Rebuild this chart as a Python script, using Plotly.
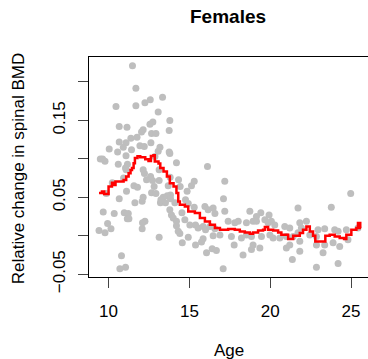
import plotly.graph_objects as go

# Scatter data: age vs relative change in spinal BMD (females)
age = [11.48, 11.69, 10.46, 11.69, 12.25, 12.58, 13.34, 13.07, 13.79, 12.74,
       12.56, 10.66, 11.14, 12.14, 12.04, 13.75, 12.66, 12.93, 11.38, 11.76,
       10.66, 11.08, 12.62, 11.94, 12.21, 10.91, 10.04, 13.18, 13.07, 13.75,
       13.79, 11.42, 10.56, 11.08, 12.87, 9.63, 9.78, 10.60, 11.17, 14.20,
       16.12, 11.05, 12.14, 13.13, 17.19, 10.23, 12.60, 12.72, 12.35, 13.13,
       13.69, 11.57, 11.79, 12.66, 11.11, 9.86, 15.30, 15.13, 14.86, 13.83,
       13.63, 13.38, 13.21, 13.52, 13.83, 14.10, 12.14, 12.08, 11.63, 10.66,
       14.76, 14.93, 15.96, 16.16, 16.47, 16.58, 15.30, 17.19, 13.79, 13.89,
       14.00, 9.67, 10.35, 10.97, 11.22, 11.16, 11.26, 12.25, 12.10, 12.08,
       9.94, 10.15, 9.41, 9.78, 14.20, 14.20, 14.31, 14.41, 14.72, 15.03,
       15.38, 15.54, 15.85, 16.00, 16.27, 16.58, 16.89, 16.47, 14.93, 13.13,
       15.85, 15.75, 14.56, 15.38, 16.41, 16.67, 16.06, 10.80, 10.70, 11.05,
       17.09, 17.11, 24.98, 21.72, 23.78, 18.74, 19.42, 19.15, 19.93, 17.40,
       17.81, 18.02, 18.53, 18.94, 19.15, 19.67, 19.87, 20.07, 20.28, 22.24,
       21.83, 21.93, 20.90, 21.21, 22.96, 23.37, 23.99, 24.20, 24.71, 25.43,
       17.60, 18.22, 18.53, 18.84, 19.46, 19.98, 20.18, 20.59, 21.00, 21.42,
       21.72, 22.45, 22.86, 17.77, 18.94, 19.36, 18.84, 21.00, 21.21, 21.83,
       22.86, 23.37, 23.89, 24.30, 24.81, 18.32, 21.83, 23.27, 21.37, 24.20,
       22.86, 11.09, 10.93, 12.22, 12.82, 12.93, 13.24, 14.54, 13.81, 14.33,
       14.43, 9.49]
bmd = [0.221, 0.192, 0.168, 0.169, 0.173, 0.177, 0.180, 0.161, 0.150, 0.148,
       0.145, 0.142, 0.141, 0.138, 0.135, 0.137, 0.133, 0.133, 0.127, 0.128,
       0.122, 0.121, 0.121, 0.117, 0.116, 0.115, 0.113, 0.115, 0.110, 0.109,
       0.107, 0.112, 0.109, 0.104, 0.103, 0.100, 0.097, 0.093, 0.093, 0.095,
       0.090, 0.088, 0.086, 0.086, 0.071, 0.069, 0.077, 0.072, 0.073, 0.072,
       0.065, 0.065, 0.063, 0.056, 0.058, 0.055, 0.071, 0.065, 0.058, 0.053,
       0.052, 0.050, 0.043, 0.043, 0.048, 0.043, 0.050, 0.045, 0.043, 0.048,
       0.047, 0.042, 0.038, 0.034, 0.036, 0.029, 0.037, 0.032, 0.034, 0.027,
       0.023, 0.031, 0.029, 0.030, 0.029, 0.022, 0.022, 0.019, 0.017, 0.009,
       0.016, 0.009, 0.007, 0.004, 0.019, 0.013, 0.006, 0.003, 0.021, 0.014,
       0.014, 0.010, 0.012, 0.008, 0.012, 0.009, 0.001, 0.000, -0.002, -0.002,
       -0.004, -0.008, -0.009, -0.012, -0.017, -0.019, -0.022, -0.026, -0.043, -0.041,
       -0.043, 0.048, 0.055, 0.036, 0.037, 0.032, 0.030, 0.025, 0.027, 0.019,
       0.017, 0.019, 0.017, 0.019, 0.019, 0.021, 0.017, 0.019, 0.014, 0.019,
       0.017, 0.010, 0.012, 0.010, 0.008, 0.009, 0.008, 0.006, 0.008, 0.010,
       -0.001, -0.003, 0.001, -0.001, -0.001, 0.001, -0.003, -0.003, -0.001, -0.001,
       0.004, 0.001, -0.001, -0.012, -0.012, -0.016, -0.018, -0.016, -0.012, -0.007,
       -0.012, -0.012, -0.009, -0.014, -0.005, -0.025, -0.020, -0.022, -0.031, -0.036,
       -0.041, 0.086, 0.075, 0.081, 0.064, 0.055, 0.047, 0.030, 0.076, 0.073,
       0.064, 0.100]

# Step smoother (running mean)
smooth_age = [9.41, 9.59, 9.73, 10.00, 10.21, 10.31, 10.43, 10.93, 11.09, 11.24,
              11.36, 11.45, 11.55, 11.63, 11.79, 11.96, 12.27, 12.47, 12.62, 12.78,
              12.86, 13.09, 13.20, 13.40, 13.61, 13.79, 14.02, 14.20, 14.31, 14.41,
              14.72, 14.93, 15.34, 15.65, 15.96, 16.27, 16.58, 16.89, 17.40, 17.81,
              18.12, 18.43, 18.74, 18.94, 19.25, 19.56, 19.67, 19.87, 20.18, 20.49,
              20.69, 21.11, 21.42, 21.83, 22.03, 22.24, 22.45, 22.65, 22.79, 23.41,
              23.68, 23.99, 24.30, 24.57, 24.71, 25.02, 25.33, 25.43, 25.57, 25.62]
smooth_val = [0.0555, 0.0575, 0.0545, 0.064, 0.069, 0.066, 0.0705, 0.0727, 0.077, 0.0814,
              0.0857, 0.088, 0.0944, 0.1013, 0.1035, 0.1022, 0.0996, 0.0974, 0.1039, 0.1048,
              0.0965, 0.0939, 0.088, 0.0835, 0.077, 0.0684, 0.064, 0.0558, 0.0446, 0.0403,
              0.0381, 0.0316, 0.0295, 0.023, 0.0186, 0.0143, 0.010, 0.0078, 0.0087, 0.0078,
              0.0056, 0.0043, 0.0026, 0.0043, 0.0069, 0.0078, 0.0113, 0.0078, 0.0069, 0.0043,
              0.0013, -0.0043, 0.0, 0.0035, 0.0078, 0.0121, 0.0056, 0.0, -0.0074, 0.0,
              0.0013, -0.0009, -0.003, -0.0043, 0.0013, 0.0078, 0.010, 0.0165, 0.010, 0.010]

x_ticks = [10, 15, 20, 25]
y_ticks = [-0.05, 0.0, 0.05, 0.10, 0.15, 0.20]
y_ticktext = ["\u22120.05", "", "0.05", "", "0.15", ""]

FONT = "Liberation Sans, Arial, Helvetica, sans-serif"

# Plot-area geometry in pixels (for placing titles)
W, H = 368, 359
L, R, T, B = 89, 0, 57, 82
PW, PH = W - L - R, H - T - B


def px_x(px):
    return (px - L) / PW


def px_y(py):
    return (H - B - py) / PH


fig = go.Figure()
fig.add_trace(go.Scatter(x=age, y=bmd, mode="markers",
                         marker=dict(color="#BEBEBE", size=7, line=dict(width=0)),
                         hoverinfo="skip", showlegend=False))
fig.add_trace(go.Scatter(x=smooth_age, y=smooth_val, mode="lines",
                         line=dict(color="#FF0000", width=2.5, shape="hv"),
                         showlegend=False))

fig.update_layout(
    width=W, height=H,
    margin=dict(l=L, r=R, t=T, b=B),
    paper_bgcolor="white", plot_bgcolor="white",
    font=dict(family=FONT, size=17, color="black"),
    xaxis=dict(range=[8.79, 26.05], tickvals=x_ticks, ticks="outside", ticklen=10,
               showline=True, linecolor="black", linewidth=1, mirror=True,
               showgrid=False, zeroline=False, tickfont=dict(size=17),
               ticklabelstandoff=9),
    yaxis=dict(range=[-0.0536, 0.2325], tickvals=y_ticks, ticktext=y_ticktext,
               ticks="outside", ticklen=10, tickangle=-90,
               showline=True, linecolor="black", linewidth=1,
               showgrid=False, zeroline=False, tickfont=dict(size=17),
               ticklabelstandoff=6),
    annotations=[
        dict(text="<b>Females</b>", xref="paper", yref="paper",
             x=px_x(228), y=px_y(17), xanchor="center", yanchor="middle",
             showarrow=False, font=dict(size=19)),
        dict(text="Age", xref="paper", yref="paper",
             x=px_x(228.5), y=px_y(350), xanchor="center", yanchor="middle",
             showarrow=False, font=dict(size=17)),
        dict(text="Relative change in spinal BMD", xref="paper", yref="paper",
             x=px_x(18.3), y=px_y(168), xanchor="center", yanchor="middle",
             textangle=-90, showarrow=False, font=dict(size=17)),
    ],
)

fig.write_html("out.html")
